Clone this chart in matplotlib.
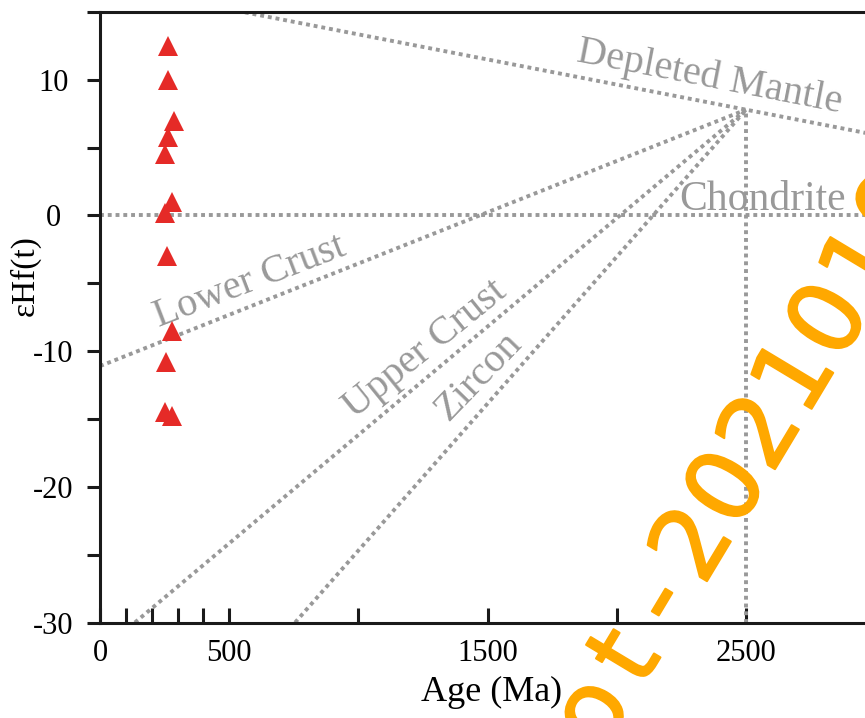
import matplotlib.pyplot as plt
import matplotlib.patheffects as pe

plt.rcParams['font.family'] = ['Liberation Serif', 'DejaVu Serif']

# zircon data (Age in Ma, eHf(t))
age = [263, 263, 287, 263, 252, 280, 252, 260, 278, 255, 252, 278]
ehf = [12.5, 10.0, 7.0, 5.8, 4.5, 1.0, 0.2, -3.0, -8.5, -10.8, -14.5, -14.8]

# reference evolution lines
dm_age = [0, 3000]
dm_ehf = [17.05, 5.95]
chur_age = [0, 3000]
chur_ehf = [0, 0]
lc_age = [0, 2500]
lc_ehf = [-11.1, 7.8]
uc_age = [135, 2500]
uc_ehf = [-30, 7.8]
zr_age = [755, 2500]
zr_ehf = [-30, 7.8]
tdm_age = [2500, 2500]
tdm_ehf = [-30, 7.8]

xticks = [0, 100, 200, 300, 400, 500, 1000, 1500, 2000, 2500]
xlabels = ['0', '', '', '', '', '500', '', '1500', '', '2500']
yticks = [-30, -25, -20, -15, -10, -5, 0, 5, 10, 15]
ylabels = ['-30', '', '-20', '', '-10', '', '0', '', '10', '']

fig = plt.figure(figsize=(8.65, 7.18), dpi=100)
ax = fig.add_axes([100 / 865, (718 - 622.5) / 718, 765 / 865, 610.5 / 718])

grey = '#999999'
ls = (0, (1, 1))
for xs, ys in [(dm_age, dm_ehf), (chur_age, chur_ehf), (lc_age, lc_ehf),
               (uc_age, uc_ehf), (zr_age, zr_ehf), (tdm_age, tdm_ehf)]:
    ax.plot(xs, ys, color=grey, lw=2.8, ls=ls, zorder=2)

ax.plot(age, ehf, ls='none', marker='^', ms=14.5, color='#E52A27',
        markeredgewidth=0, zorder=5)

tkw = dict(color=grey, fontsize=29, ha='center', va='center', rotation_mode='anchor')
ax.text(2361, 10.2, 'Depleted Mantle', rotation=-11, **tkw)
ax.text(2240, 0.4, 'Chondrite', color=grey, fontsize=30, ha='left', va='baseline')
ax.text(580, -4.9, 'Lower Crust', rotation=21, **tkw)
ax.text(1258, -9.9, 'Upper Crust', rotation=39, **tkw)
ax.text(1463, -11.9, 'Zircon', rotation=46, **tkw)

ax.set_xlim(0, 765 / 0.2584)
ax.set_ylim(-30, 15)

ax.set_xticks(xticks)
ax.set_xticklabels(xlabels, fontsize=22)
ax.set_yticks(yticks)
ax.set_yticklabels(ylabels, fontsize=22)
ax.tick_params(axis='x', direction='in', length=10.8, width=2.2, pad=12, color='#1a1a1a')
ax.tick_params(axis='y', direction='out', length=9.4, width=2.2, pad=24, color='#1a1a1a')
for lab in ax.get_yticklabels():
    lab.set_ha('center')

for s in ['left', 'bottom', 'top']:
    ax.spines[s].set_linewidth(2.2)
    ax.spines[s].set_color('#1a1a1a')
ax.spines['right'].set_visible(False)

ax.set_xlabel('Age (Ma)', fontsize=26, va='center')
ax.xaxis.set_label_coords(0.512, -0.115)
ax.set_ylabel('εHf(t)', fontsize=24, va='center')
ax.yaxis.set_label_coords(-0.098, 0.568)

# watermark, one glyph at a time along a slanted line
mark = 'bot-2021010'
x0, y0 = 560, 770
dx, dy = 34, -56
for i, ch in enumerate(mark):
    fig.text((x0 + i * dx) / 865, 1 - (y0 + i * dy) / 718, ch, family='DejaVu Sans',
             fontsize=72, color='#FFA800', rotation=59, rotation_mode='anchor',
             ha='center', va='center', zorder=10,
             path_effects=[pe.withStroke(linewidth=1.5, foreground='#FFA800')])

fig.savefig('out.png', dpi=100)
